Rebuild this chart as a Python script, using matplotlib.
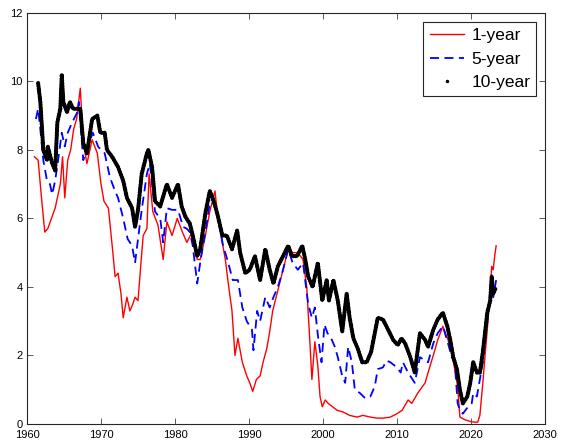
import matplotlib
matplotlib.use("Agg")
import matplotlib.pyplot as plt
from matplotlib.lines import Line2D

# 1-year yield
yr1 = [1961.0, 1961.5, 1962.0, 1962.4, 1962.8, 1963.3, 1963.8, 1964.2, 1964.5, 1964.8,
       1965.1, 1965.5, 1965.9, 1966.3, 1966.7, 1967.2, 1967.6, 1968.1, 1968.8, 1969.5,
       1970.0, 1970.4, 1971.0, 1971.6, 1971.9, 1972.3, 1972.7, 1973.0, 1973.5, 1973.9,
       1974.3, 1974.6, 1975.0, 1975.4, 1975.7, 1976.2, 1976.5, 1977.0, 1977.7, 1978.4,
       1978.9, 1979.6, 1980.3, 1981.0, 1981.6, 1982.3, 1983.0, 1983.4, 1984.1, 1984.7,
       1985.4, 1985.8, 1986.3, 1986.8, 1987.2, 1987.7, 1988.1, 1988.5, 1989.1, 1989.7,
       1990.1, 1990.5, 1991.0, 1991.5, 1991.9, 1992.4, 1992.8, 1993.2, 1993.9, 1994.6,
       1995.3, 1995.9, 1996.6, 1997.3, 1997.8, 1998.2, 1998.5, 1998.9, 1999.3, 1999.6,
       1999.9, 2000.3, 2000.7, 2001.3, 2001.9, 2002.7, 2003.6, 2004.6, 2005.4, 2006.4,
       2007.3, 2008.1, 2009.1, 2010.0, 2010.7, 2011.5, 2012.0, 2012.8, 2013.8, 2014.2,
       2014.9, 2015.5, 2016.2, 2016.9, 2017.4, 2017.8, 2018.2, 2018.5, 2019.2, 2020.1,
       2020.9, 2021.2, 2021.6, 2021.9, 2022.2, 2022.6, 2022.8, 2023.0, 2023.2, 2023.4]
y1 = [7.8, 7.7, 6.5, 5.6, 5.7, 6.0, 6.3, 6.7, 7.0, 7.8,
      6.6, 7.7, 8.0, 8.6, 8.9, 9.8, 8.2, 7.6, 8.3, 7.9,
      7.0, 6.5, 6.3, 5.0, 4.3, 4.4, 3.8, 3.1, 3.7, 3.3,
      3.5, 3.7, 3.6, 4.7, 5.5, 5.7, 7.3, 6.2, 5.8, 4.8,
      5.9, 5.5, 6.0, 5.6, 5.3, 5.6, 4.8, 4.8, 5.5, 6.2,
      6.8, 6.0, 5.4, 4.8, 4.1, 3.3, 2.0, 2.5, 1.8, 1.4,
      1.2, 0.95, 1.3, 1.4, 1.8, 2.2, 2.7, 3.3, 3.9, 4.5,
      5.1, 5.0, 5.0, 4.8, 4.0, 2.5, 1.3, 2.4, 1.7, 0.8,
      0.5, 0.7, 0.6, 0.5, 0.4, 0.35, 0.25, 0.2, 0.25, 0.2,
      0.17, 0.17, 0.2, 0.3, 0.4, 0.7, 0.6, 0.9, 1.2, 1.5,
      2.0, 2.45, 2.85, 2.45, 2.1, 1.6, 1.1, 0.2, 0.12, 0.06,
      0.05, 0.25, 1.2, 2.0, 2.75, 3.9, 4.6, 4.5, 4.9, 5.2]

# 5-year yield
yr5 = [1961.2, 1961.5, 1961.8, 1962.2, 1962.7, 1963.1, 1963.4, 1963.8, 1964.2, 1964.7,
       1965.1, 1965.5, 1966.1, 1966.8, 1967.0, 1967.6, 1968.2, 1968.9, 1969.6, 1970.0,
       1970.5, 1971.2, 1971.9, 1972.3, 1973.0, 1973.6, 1974.2, 1974.6, 1975.0, 1975.5,
       1976.2, 1976.6, 1977.3, 1978.0, 1978.4, 1978.9, 1979.6, 1980.4, 1981.1, 1981.6,
       1982.0, 1982.4, 1983.0, 1983.4, 1984.1, 1984.7, 1985.1, 1985.8, 1986.5, 1987.2,
       1987.8, 1988.5, 1989.1, 1989.7, 1990.4, 1990.6, 1991.1, 1991.5, 1992.2, 1992.8,
       1993.3, 1993.9, 1994.6, 1995.3, 1995.9, 1996.6, 1997.3, 1998.0, 1998.5, 1998.9,
       1999.3, 1999.8, 2000.2, 2000.6, 2001.0, 2001.6, 2002.0, 2002.6, 2003.0, 2003.4,
       2003.9, 2004.3, 2005.0, 2005.7, 2006.4, 2007.0, 2007.4, 2008.1, 2008.6, 2009.1,
       2010.0, 2010.5, 2010.8, 2011.5, 2012.4, 2013.1, 2013.8, 2014.2, 2014.9, 2015.5,
       2016.2, 2016.9, 2017.4, 2017.8, 2018.2, 2018.5, 2018.9, 2019.6, 2020.1, 2020.3,
       2020.8, 2021.2, 2021.6, 2022.2, 2022.6, 2022.8, 2023.0, 2023.4]
y5 = [8.9, 9.2, 8.6, 7.7, 7.1, 7.0, 6.7, 7.1, 7.7, 8.5,
      8.1, 8.5, 8.8, 9.1, 9.4, 7.7, 8.1, 8.5, 8.1, 8.0,
      7.9, 7.2, 6.8, 6.6, 6.0, 5.4, 5.2, 4.7, 5.4, 6.25,
      7.3, 7.6, 6.2, 6.0, 5.3, 6.3, 6.25, 6.25, 5.75, 5.7,
      5.6, 5.2, 4.1, 4.7, 5.6, 6.45, 6.6, 6.0, 5.2, 4.7,
      4.2, 4.2, 3.4, 3.0, 2.75, 2.15, 3.3, 3.0, 3.7, 3.4,
      3.7, 4.0, 4.5, 5.1, 4.7, 4.5, 4.7, 3.5, 3.1, 3.4,
      2.6, 1.8, 2.9, 2.65, 2.55, 2.25, 1.95, 1.4, 1.2, 2.25,
      1.8, 1.0, 0.9, 0.75, 0.8, 1.1, 1.6, 1.65, 1.85, 1.8,
      1.65, 1.5, 1.8, 1.5, 1.2, 1.95, 1.85, 1.8, 2.35, 2.65,
      2.85, 2.35, 1.95, 1.8, 0.6, 0.4, 0.3, 0.5, 0.6, 0.9,
      0.8, 1.3, 1.8, 2.95, 3.9, 4.4, 3.7, 4.2]

# 10-year yield
yr10 = [1961.5, 1961.8, 1962.0, 1962.2, 1962.7, 1962.8, 1963.4, 1963.8, 1964.1, 1964.5,
        1964.7, 1964.9, 1965.4, 1965.8, 1966.2, 1966.8, 1967.2, 1967.6, 1968.1, 1968.8,
        1969.5, 1969.9, 1970.5, 1970.8, 1971.5, 1972.3, 1973.0, 1973.5, 1974.2, 1974.6,
        1975.0, 1975.5, 1976.2, 1976.4, 1976.9, 1977.3, 1978.0, 1978.9, 1979.6, 1980.4,
        1980.9, 1981.4, 1982.0, 1982.4, 1983.0, 1983.4, 1984.1, 1984.7, 1985.1, 1985.7,
        1986.4, 1987.0, 1987.7, 1988.4, 1988.8, 1989.5, 1990.1, 1990.8, 1991.5, 1992.2,
        1992.8, 1993.3, 1993.9, 1994.6, 1995.3, 1995.8, 1996.5, 1997.2, 1997.6, 1998.0,
        1998.6, 1999.3, 1999.9, 2000.5, 2000.8, 2001.4, 2002.0, 2002.6, 2003.2, 2003.6,
        2004.1, 2004.7, 2005.3, 2005.9, 2006.5, 2007.4, 2008.1, 2008.8, 2009.5, 2010.1,
        2010.6, 2011.1, 2011.8, 2012.4, 2013.1, 2013.8, 2014.2, 2014.9, 2015.5, 2016.2,
        2016.8, 2017.2, 2017.6, 2018.1, 2018.5, 2018.9, 2019.5, 2019.9, 2020.3, 2020.8,
        2021.2, 2021.6, 2022.2, 2022.6, 2022.8, 2023.0, 2023.4]
y10 = [9.95, 9.4, 8.7, 8.0, 7.7, 8.1, 7.6, 7.4, 8.8, 9.2,
       10.2, 9.4, 9.1, 9.4, 9.2, 9.2, 9.2, 8.2, 7.9, 8.9,
       9.0, 8.5, 8.5, 8.0, 7.8, 7.5, 7.1, 6.6, 6.3, 5.75,
       6.25, 7.3, 7.9, 8.0, 7.5, 6.5, 6.35, 7.0, 6.6, 7.0,
       6.35, 6.05, 5.85, 5.5, 4.9, 5.1, 6.15, 6.8, 6.6, 6.15,
       5.5, 5.5, 5.1, 5.65, 5.0, 4.4, 4.5, 4.9, 4.2, 5.1,
       4.5, 4.1, 4.6, 4.9, 5.2, 4.9, 4.9, 5.2, 4.8, 4.3,
       4.0, 4.7, 3.6, 4.2, 3.6, 4.2, 3.6, 2.7, 3.8, 3.1,
       2.5, 2.2, 1.8, 1.8, 2.1, 3.1, 3.05, 2.75, 2.45, 2.3,
       2.5, 2.35, 1.95, 1.5, 2.65, 2.45, 2.25, 2.75, 3.05, 3.25,
       2.85, 2.45, 1.95, 1.6, 1.0, 0.6, 0.8, 1.2, 1.8, 1.5,
       1.5, 2.1, 3.25, 3.6, 4.3, 3.8, 4.0]

plt.rcParams['font.family'] = ['Liberation Sans', 'DejaVu Sans']

fig = plt.figure(figsize=(5.63, 4.43), dpi=100)
ax = fig.add_axes([0.048, 0.043, 0.92, 0.928])

ax.plot(yr1, y1, color='red', lw=1.0)
ax.plot(yr5, y5, color='blue', lw=1.3, ls=(0, (5, 3)))
ax.plot(yr10, y10, color='black', lw=3.0, ls=(0, (0.1, 0.55)),
        dash_capstyle='round', solid_joinstyle='round')

ax.set_xlim(1960, 2030)
ax.set_ylim(0, 12)
ax.set_xticks(range(1960, 2031, 10))
ax.set_yticks(range(0, 13, 2))
ax.tick_params(direction='in', top=True, right=True, labelsize=8,
               length=4, width=0.6, color='#404040')
ax.tick_params(axis='x', pad=4)
ax.tick_params(axis='y', pad=3)
for s in ax.spines.values():
    s.set_linewidth(0.8)
    s.set_color('#262626')

handles = [Line2D([], [], color='red', lw=1.0),
           Line2D([], [], color='blue', lw=1.3, ls=(0, (5, 3))),
           Line2D([], [], color='black', marker='.', ms=3, ls='none')]
leg = ax.legend(handles, ['1-year', '5-year', '10-year'], loc='upper right',
                fontsize=12.5, fancybox=False, framealpha=1, edgecolor='#262626',
                handlelength=2.0, borderpad=0.35, labelspacing=0.5,
                handletextpad=0.4, borderaxespad=0.5)
leg.get_frame().set_linewidth(0.8)

fig.savefig('out.png', dpi=100)
